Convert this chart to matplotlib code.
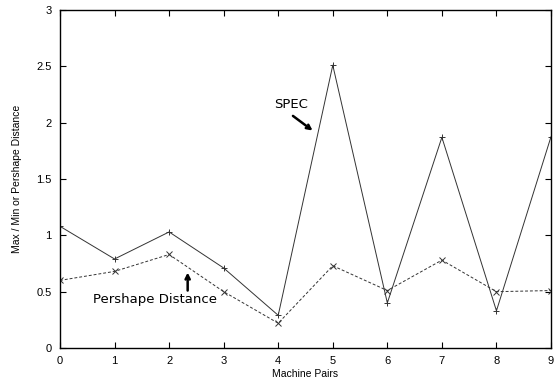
import numpy as np
import matplotlib
matplotlib.use("Agg")
import matplotlib.pyplot as plt

# machine pair index
pairs = np.arange(10)
spec = [1.08, 0.79, 1.03, 0.71, 0.29, 2.51, 0.40, 1.87, 0.33, 1.875]
pershape = [0.60, 0.68, 0.83, 0.50, 0.22, 0.73, 0.51, 0.78, 0.50, 0.51]
yticks = [0, 0.5, 1, 1.5, 2, 2.5, 3]
yticklabels = ['0', '0.5', '1', '1.5', '2', '2.5', '3']

fig = plt.figure(figsize=(5.54, 3.85), dpi=100)
ax = fig.add_axes([60/554, 1-348/385, 491/554, 338/385])

ax.plot(pairs, spec, color='#333333', linestyle='solid', linewidth=0.7,
        marker='+', markersize=5, markeredgewidth=0.7)
ax.plot(pairs, pershape, color='#333333', linestyle=(0, (3, 2)), linewidth=0.7,
        marker='x', markersize=4, markeredgewidth=0.7)

ax.set_xlim(0, 9)
ax.set_ylim(0, 3)
ax.set_xticks(pairs)
ax.set_yticks(yticks)
ax.set_yticklabels(yticklabels)
ax.tick_params(direction='in', top=True, right=True, length=4, width=0.8,
               labelsize=8, pad=6, labelfontfamily='Liberation Sans')
for s in ax.spines.values():
    s.set_linewidth(1.0)

ax.set_xlabel('Machine Pairs', fontsize=7.5, family='Liberation Sans', labelpad=2)
ax.set_ylabel('Max / Min or Pershape Distance', fontsize=7.5, family='Liberation Sans', labelpad=10)

arrow = dict(arrowstyle='->,head_length=0.3,head_width=0.15',
             color='black', lw=1.8, shrinkA=0, shrinkB=0)

# annotations
ax.text(3.93, 2.16, 'SPEC', fontsize=9.5, family='DejaVu Sans', ha='left', va='center')
ax.annotate('', xy=(4.63, 1.93), xytext=(4.27, 2.06), arrowprops=arrow)

ax.text(0.6, 0.43, 'Pershape Distance', fontsize=9.5, family='DejaVu Sans', ha='left', va='center')
ax.annotate('', xy=(2.34, 0.67), xytext=(2.34, 0.51), arrowprops=arrow)

fig.savefig('out.png', dpi=100)
